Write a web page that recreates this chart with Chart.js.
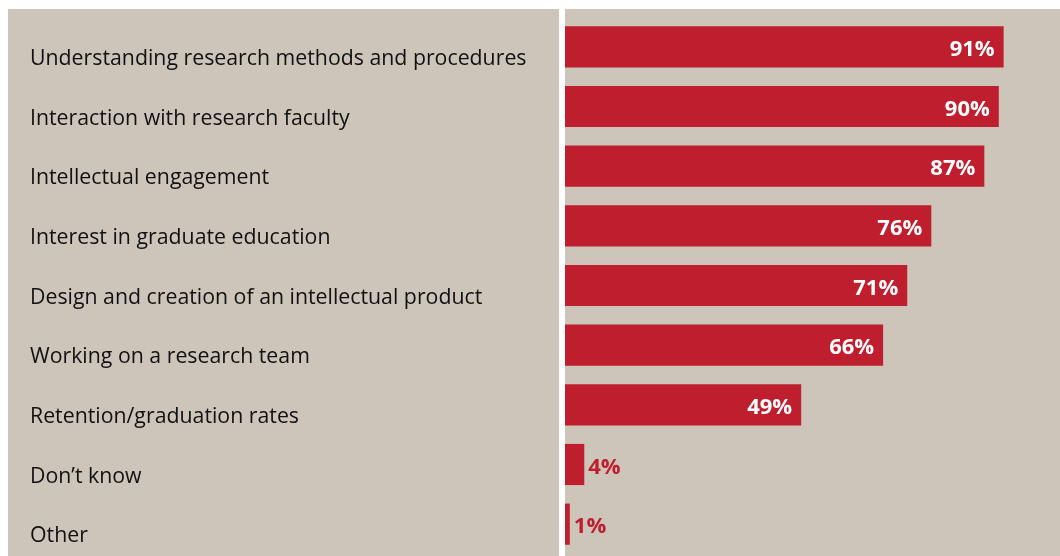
<!DOCTYPE html>
<html>
<head>
<meta charset="utf-8">
<script src="https://cdn.jsdelivr.net/npm/chart.js@4"></script>
<style>
  html, body { margin: 0; padding: 0; background: #ffffff; }
  #wrap { width: 1060px; height: 556px; position: relative; }
</style>
</head>
<body>
<div id="wrap"><canvas id="c" width="1060" height="556"></canvas></div>
<script>
const categories = [
  'Understanding research methods and procedures',
  'Interaction with research faculty',
  'Intellectual engagement',
  'Interest in graduate education',
  'Design and creation of an intellectual product',
  'Working on a research team',
  'Retention/graduation rates',
  'Don\u2019t know',
  'Other'
];
const shares = [91, 90, 87, 76, 71, 66, 49, 4, 1];
const valueLabels = ['91%', '90%', '87%', '76%', '71%', '66%', '49%', '4%', '1%'];

const BEIGE = '#cdc5ba';
const RED = '#be1e2d';
const FONT = '"Open Sans", "DejaVu Sans", sans-serif';

// Beige label panel and plot panel separated by a white gutter
const panels = {
  id: 'panels',
  beforeDraw(chart) {
    const { ctx, chartArea } = chart;
    ctx.save();
    ctx.fillStyle = '#ffffff';
    ctx.fillRect(0, 0, chart.width, chart.height);
    ctx.fillStyle = BEIGE;
    ctx.fillRect(8, 9, chartArea.left - 6 - 8, chart.height - 9);
    ctx.fillRect(chartArea.left, 9, chart.width - chartArea.left, chart.height - 9);
    ctx.restore();
  }
};

// Category names, left-aligned in the label panel and sitting slightly below each bar's centre
const categoryNames = {
  id: 'categoryNames',
  afterDraw(chart) {
    const { ctx } = chart;
    const yScale = chart.scales.y;
    ctx.save();
    ctx.font = '21.3px ' + FONT;
    ctx.fillStyle = '#111111';
    ctx.textAlign = 'left';
    ctx.textBaseline = 'middle';
    categories.forEach((name, i) => {
      ctx.fillText(name, 30, yScale.getPixelForValue(i) + 12);
    });
    ctx.restore();
  }
};

// Percentage labels: inside the bar end in white, or just past short bars in red
const barValues = {
  id: 'barValues',
  afterDatasetsDraw(chart) {
    const { ctx } = chart;
    const meta = chart.getDatasetMeta(0);
    ctx.save();
    ctx.font = 'bold 22px ' + FONT;
    ctx.textBaseline = 'middle';
    meta.data.forEach((bar, i) => {
      const y = bar.y + 3;
      if (shares[i] >= 10) {
        ctx.fillStyle = '#ffffff';
        ctx.textAlign = 'right';
        ctx.fillText(valueLabels[i], bar.x - 9, y);
      } else {
        ctx.fillStyle = RED;
        ctx.textAlign = 'left';
        ctx.fillText(valueLabels[i], bar.x + 4, y);
      }
    });
    ctx.restore();
  }
};

new Chart(document.getElementById('c'), {
  type: 'bar',
  data: {
    labels: categories,
    datasets: [{
      data: shares,
      backgroundColor: RED,
      borderWidth: 0,
      barPercentage: 0.69,
      categoryPercentage: 1
    }]
  },
  options: {
    indexAxis: 'y',
    responsive: false,
    animation: false,
    layout: { padding: { left: 0, top: 17, bottom: 2, right: 13 } },
    plugins: { legend: { display: false }, tooltip: { enabled: false } },
    scales: {
      x: {
        display: false,
        min: 0,
        max: 100
      },
      y: {
        grid: { display: false, drawTicks: false },
        border: { display: false },
        afterFit(scale) { scale.width = 565; },
        ticks: { display: false }
      }
    }
  },
  plugins: [panels, barValues, categoryNames]
});
</script>
</body>
</html>
